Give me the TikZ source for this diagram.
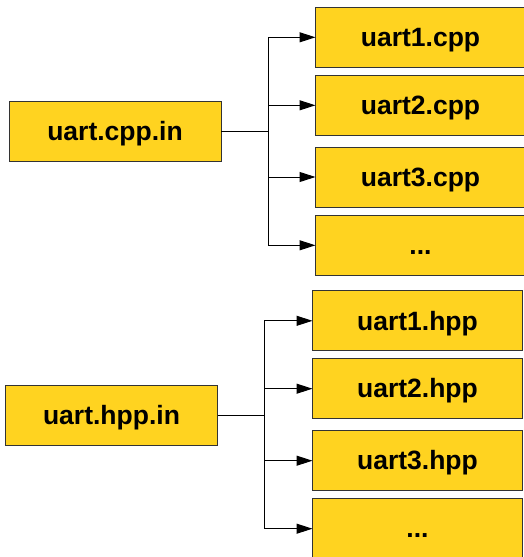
\documentclass[tikz,border=0pt]{standalone}
\usepackage{fontspec}
\setmainfont{Liberation Sans}
\usetikzlibrary{arrows.meta}
\definecolor{boxfill}{HTML}{FFD320}
\definecolor{boxline}{HTML}{333333}
\tikzset{
  filebox/.style={draw=boxline, line width=0.9pt, fill=boxfill, inner sep=0pt, outer sep=0pt,
    minimum height=60pt, font=\fontsize{26.5}{30}\selectfont\bfseries,
    text height=24pt, text depth=5.6pt},
  srcbox/.style={filebox, minimum width=212pt},
  outbox/.style={filebox, minimum width=210pt},
  link/.style={line width=1pt, draw=black},
  branch/.style={link, -{Triangle[length=16pt,width=10pt]}}
}
\begin{document}
\begin{tikzpicture}[x=1pt,y=-1pt]
\useasboundingbox (0,0) rectangle (524,557);

% source template and generated .cpp files
\node[srcbox] (cppin) at (115,131.5) {uart.cpp.in};
\node[outbox] (cpp1) at (420.5,37.3) {uart1.cpp};
\node[outbox] (cpp2) at (420.5,105.3) {uart2.cpp};
\node[outbox] (cpp3) at (420.5,177) {uart3.cpp};
\node[outbox] (cpp4) at (420.5,245.3) {...};
\coordinate (jcpp) at (268,131.5);
\draw[link] (cppin.east) -- (jcpp);
\foreach \t in {cpp1,cpp2,cpp3,cpp4}
  \draw[branch] (jcpp) |- (\t.west);

% source template and generated .hpp files
\node[srcbox] (hppin) at (111.5,415.3) {uart.hpp.in};
\node[outbox] (hpp1) at (417.5,320.8) {uart1.hpp};
\node[outbox] (hpp2) at (417.5,388.7) {uart2.hpp};
\node[outbox] (hpp3) at (417.5,460.7) {uart3.hpp};
\node[outbox] (hpp4) at (417.5,528.7) {...};
\coordinate (jhpp) at (264.3,415.3);
\draw[link] (hppin.east) -- (jhpp);
\foreach \t in {hpp1,hpp2,hpp3,hpp4}
  \draw[branch] (jhpp) |- (\t.west);
\end{tikzpicture}
\end{document}
